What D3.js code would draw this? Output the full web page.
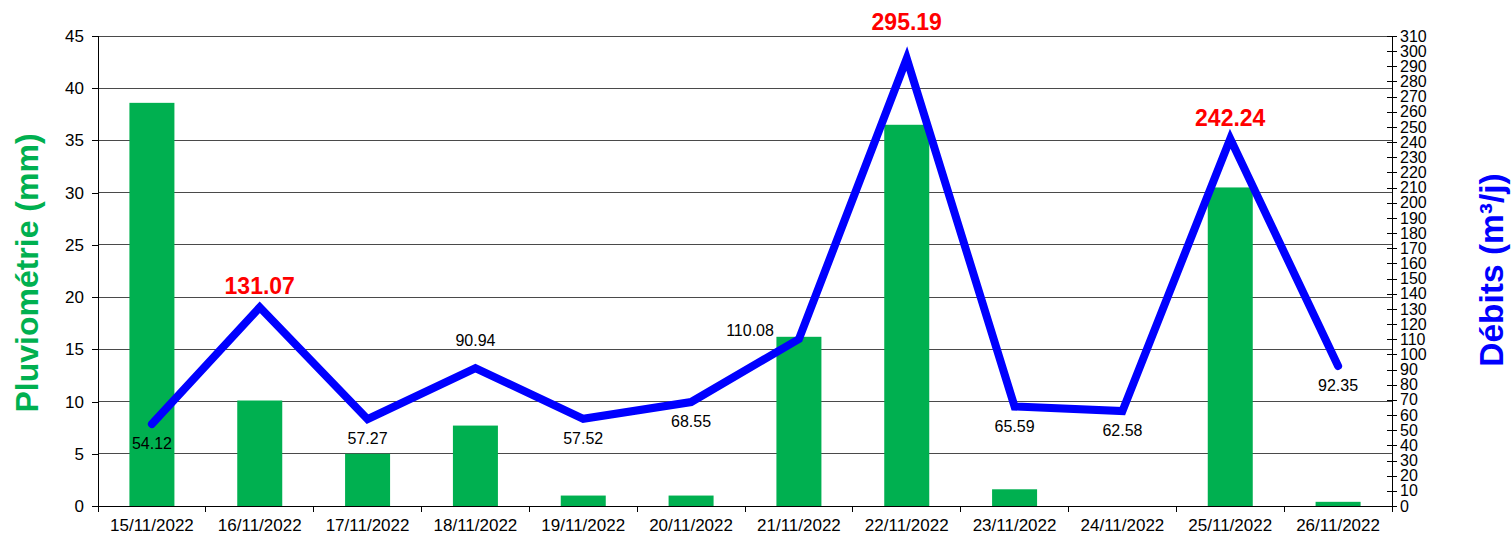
<!DOCTYPE html>
<html>
<head>
<meta charset="utf-8">
<script src="https://cdn.jsdelivr.net/npm/d3@7"></script>
<style>
  html, body { margin: 0; padding: 0; background: #fff; }
  svg { display: block; font-family: Arial, "Liberation Sans", sans-serif; }
</style>
</head>
<body>
<svg id="chart" width="1512" height="535"></svg>
<script>
const dates = ["15/11/2022","16/11/2022","17/11/2022","18/11/2022","19/11/2022","20/11/2022",
               "21/11/2022","22/11/2022","23/11/2022","24/11/2022","25/11/2022","26/11/2022"];
const rainfall = [38.6, 10.1, 5.0, 7.7, 1.0, 1.0, 16.2, 36.5, 1.6, 0, 30.5, 0.4];
const flows = [54.12, 131.07, 57.27, 90.94, 57.52, 68.55, 110.08, 295.19, 65.59, 62.58, 242.24, 92.35];
const labelPlacement = ["below","above","below","above","below","below","left","top","below","below","above","below"];
const leftTicks = d3.range(0, 46, 5);
const rightTicks = d3.range(0, 311, 10);

const svg = d3.select("#chart");
const L = 98, R = 1392, T = 36, B = 506;

const xb = d3.scaleBand().domain(dates).range([L, R]);
const yL = d3.scaleLinear().domain([0, 45]).range([B, T]);
const yR = d3.scaleLinear().domain([0, 310]).range([B, T]);
const barW = 45;

// gridlines
svg.append("g").selectAll("line").data(leftTicks.filter(d => d > 0)).join("line")
  .attr("x1", L).attr("x2", R).attr("y1", d => yL(d)).attr("y2", d => yL(d))
  .attr("stroke", "#4a4a4a").attr("stroke-width", 1).attr("shape-rendering", "crispEdges");

// bars
svg.append("g").selectAll("rect").data(dates).join("rect")
  .attr("x", d => xb(d) + xb.bandwidth() / 2 - barW / 2)
  .attr("width", barW)
  .attr("y", (d, i) => yL(rainfall[i]))
  .attr("height", (d, i) => B - yL(rainfall[i]))
  .attr("fill", "#00B050");

// left axis
const gL = svg.append("g").attr("transform", `translate(${L},0)`)
  .call(d3.axisLeft(yL).tickValues(leftTicks).tickSize(6).tickPadding(8).tickFormat(d3.format("d")));
gL.selectAll("text").attr("font-size", 17).attr("fill", "#000").attr("font-family", "Arial, 'Liberation Sans', sans-serif");
gL.selectAll("line, path").attr("stroke", "#000").attr("shape-rendering", "crispEdges");
gL.select(".domain").attr("d", `M0,${B}V${T}`);

// right axis
const gR = svg.append("g").attr("transform", `translate(${R},0)`)
  .call(d3.axisRight(yR).tickValues(rightTicks).tickSize(5).tickPadding(3).tickFormat(d3.format("d")));
gR.selectAll(".tick line").attr("x1", -5);
gR.selectAll("text").attr("font-size", 16).attr("fill", "#000").attr("font-family", "Arial, 'Liberation Sans', sans-serif");
gR.selectAll("line, path").attr("stroke", "#000").attr("shape-rendering", "crispEdges");
gR.select(".domain").attr("d", `M0,${B}V${T}`);

// bottom axis
const gB = svg.append("g").attr("transform", `translate(0,${B})`);
gB.append("line").attr("x1", L).attr("x2", R).attr("y1", 0).attr("y2", 0)
  .attr("stroke", "#000").attr("shape-rendering", "crispEdges");
gB.selectAll("line.tk").data(d3.range(dates.length + 1)).join("line").attr("class", "tk")
  .attr("x1", i => L + i * xb.step()).attr("x2", i => L + i * xb.step())
  .attr("y1", 0).attr("y2", 6).attr("stroke", "#000").attr("shape-rendering", "crispEdges");
gB.selectAll("text").data(dates).join("text")
  .attr("x", d => xb(d) + xb.bandwidth() / 2).attr("y", 25)
  .attr("text-anchor", "middle").attr("font-size", 17).attr("fill", "#000")
  .text(d => d);

// line
const cxOf = i => xb(dates[i]) + xb.bandwidth() / 2;
const line = d3.line().x((d, i) => cxOf(i)).y(d => yR(d));
svg.append("path").datum(flows).attr("d", line)
  .attr("fill", "none").attr("stroke", "#0000FF").attr("stroke-width", 8)
  .attr("stroke-linecap", "round").attr("stroke-linejoin", "miter");

// data labels
const isPeak = (i) => (i === 0 || flows[i] > flows[i - 1]) && (i === flows.length - 1 || flows[i] > flows[i + 1]) && flows[i] > 120;
svg.append("g").selectAll("text").data(flows).join("text")
  .attr("x", (d, i) => labelPlacement[i] === "left" ? cxOf(i) - 25 : cxOf(i))
  .attr("y", (d, i) => {
    const cy = yR(d);
    const p = labelPlacement[i];
    if (p === "top") return T - 6;
    if (isPeak(i)) return cy - 13;
    if (p === "above") return cy - 22;
    if (p === "left") return cy - 3;
    return cy + 25;
  })
  .attr("text-anchor", (d, i) => labelPlacement[i] === "left" ? "end" : "middle")
  .attr("font-size", (d, i) => isPeak(i) ? 23 : 16)
  .attr("font-weight", (d, i) => isPeak(i) ? "bold" : "normal")
  .attr("fill", (d, i) => isPeak(i) ? "#FF0000" : "#000")
  .text(d => d.toFixed(2));

// axis titles
svg.append("text")
  .attr("transform", `translate(38,273) rotate(-90)`)
  .attr("text-anchor", "middle").attr("font-size", 32).attr("font-weight", "bold")
  .attr("fill", "#00B050").text("Pluviométrie (mm)");
svg.append("text")
  .attr("transform", `translate(1503,270) rotate(-90)`)
  .attr("text-anchor", "middle").attr("font-size", 33.5).attr("font-weight", "bold")
  .attr("fill", "#0000FF").text("Débits (m³/j)");
</script>
</body>
</html>
